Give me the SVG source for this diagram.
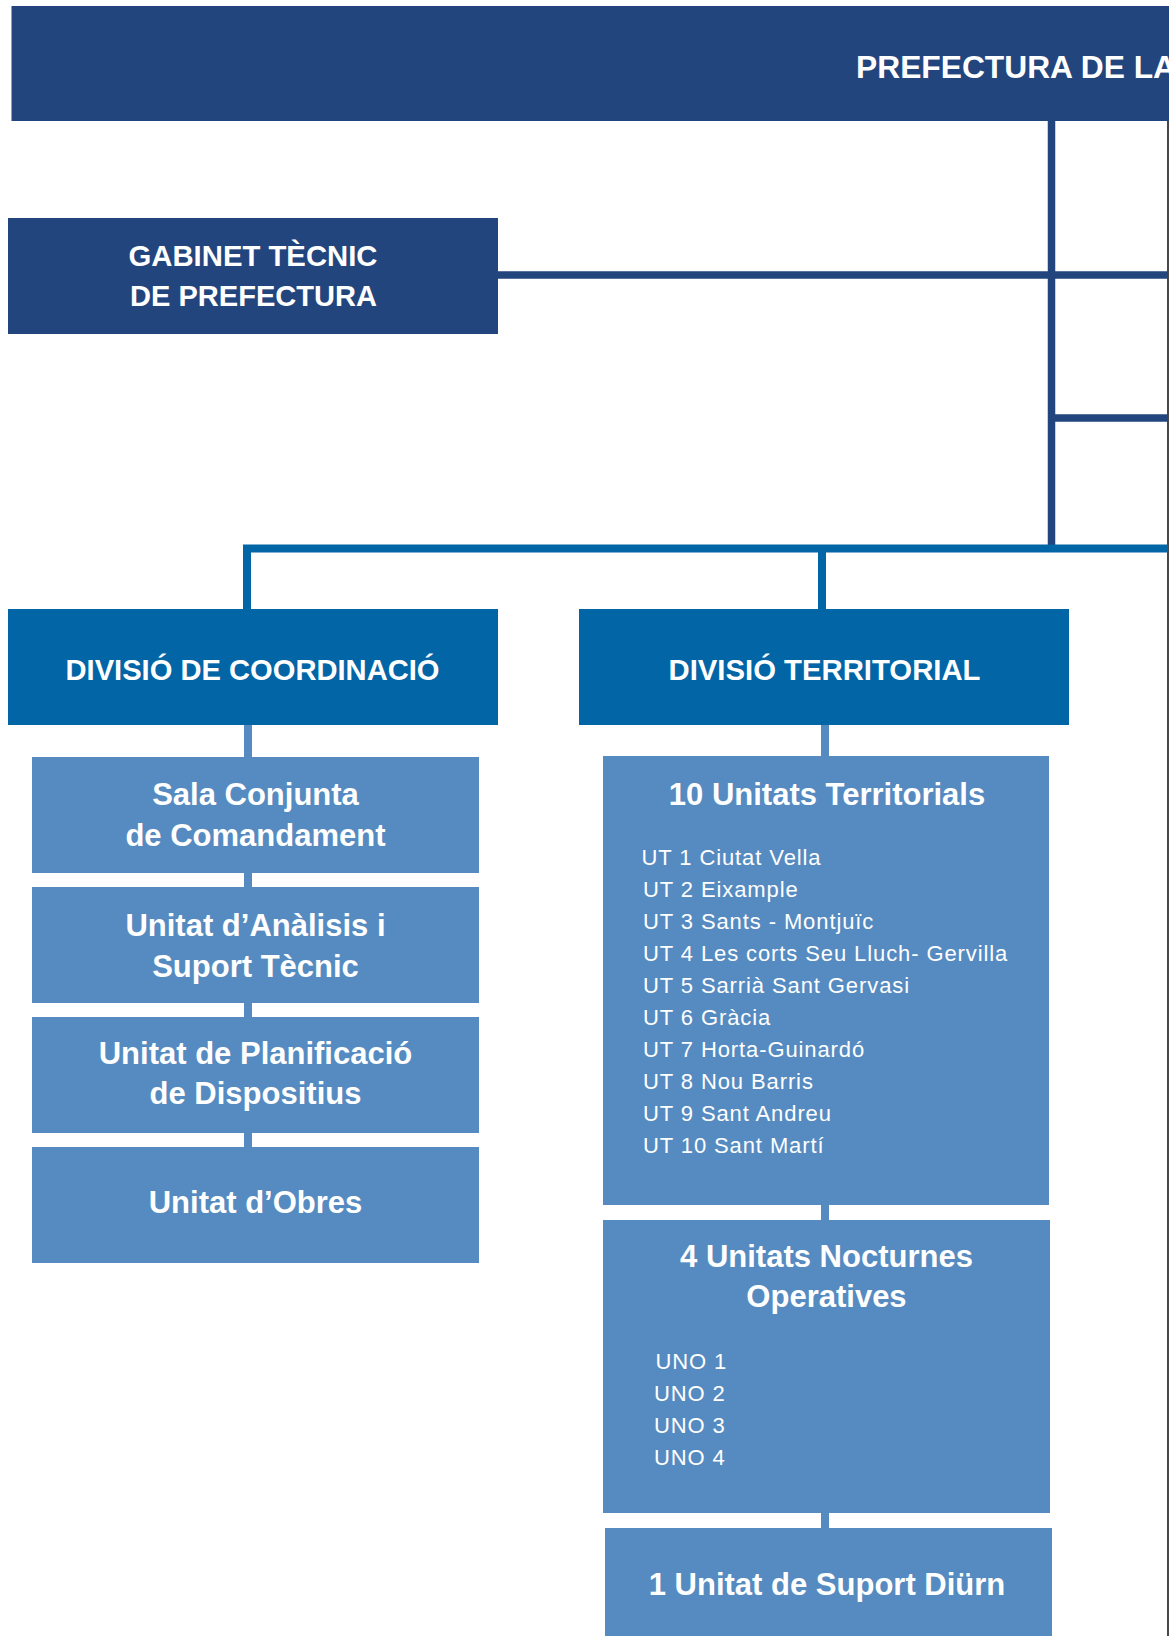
<svg xmlns="http://www.w3.org/2000/svg" width="1169" height="1636" viewBox="0 0 1169 1636">
<style>
.navy{fill:#23457e}
.div{fill:#0265a6}
.lt{fill:#568bc1}
.hdr{font-family:"Liberation Sans",Arial,sans-serif;font-weight:bold;font-size:30px;fill:#ffffff}
.ttl{font-family:"Liberation Sans",Arial,sans-serif;font-weight:bold;font-size:31px;fill:#ffffff;text-anchor:middle}
.lst{font-family:"Liberation Sans",Arial,sans-serif;font-size:22px;letter-spacing:0.9px;fill:#ffffff}
.cn{stroke:#23457e;stroke-width:7.5;fill:none}
.cb{stroke:#0265a6;stroke-width:8;fill:none}
.cl{stroke:#568bc1;stroke-width:8;fill:none}
</style>
<rect width="1169" height="1636" fill="#ffffff"/>
<g id="edge">
<line x1="1168" y1="121" x2="1168" y2="1636" stroke="#1a1a1a" stroke-width="1.6"/>
</g>
<g id="connectors">
<line class="cn" x1="1051.5" y1="118" x2="1051.5" y2="548"/>
<line class="cn" x1="495" y1="275" x2="1168" y2="275"/>
<line class="cn" x1="1051.5" y1="418" x2="1168" y2="418"/>
<polyline class="cb" points="247,612 247,548.5 1168,548.5"/>
<line class="cb" x1="822" y1="548" x2="822" y2="612"/>
<line class="cl" x1="248" y1="720" x2="248" y2="1150"/>
<line class="cl" x1="825" y1="720" x2="825" y2="1530"/>
</g>
<g id="prefectura">
<rect class="navy" x="11.5" y="6" width="1160" height="115"/>
<text class="hdr" x="856" y="78" font-size="32" textLength="320" lengthAdjust="spacingAndGlyphs" style="font-size:32px">PREFECTURA DE LA</text>
</g>
<g id="gabinet">
<rect class="navy" x="8" y="218" width="490" height="116"/>
<text class="hdr" x="253" y="266" text-anchor="middle" textLength="249" lengthAdjust="spacingAndGlyphs">GABINET TÈCNIC</text>
<text class="hdr" x="253.5" y="306" text-anchor="middle" textLength="247" lengthAdjust="spacingAndGlyphs">DE PREFECTURA</text>
</g>
<g id="divisio-coordinacio">
<rect class="div" x="8" y="609" width="490" height="116"/>
<text class="hdr" x="252.5" y="680" text-anchor="middle" textLength="374" lengthAdjust="spacingAndGlyphs">DIVISIÓ DE COORDINACIÓ</text>
</g>
<g id="divisio-territorial">
<rect class="div" x="579" y="609" width="490" height="116"/>
<text class="hdr" x="824.5" y="680" text-anchor="middle" textLength="312" lengthAdjust="spacingAndGlyphs">DIVISIÓ TERRITORIAL</text>
</g>
<g id="sala-conjunta">
<rect class="lt" x="32" y="757" width="447" height="116"/>
<text class="ttl" x="255.5" y="805">Sala Conjunta</text>
<text class="ttl" x="255.5" y="846">de Comandament</text>
</g>
<g id="unitat-analisis">
<rect class="lt" x="32" y="887" width="447" height="116"/>
<text class="ttl" x="255.5" y="936">Unitat d’Anàlisis i</text>
<text class="ttl" x="255.5" y="977">Suport Tècnic</text>
</g>
<g id="unitat-planificacio">
<rect class="lt" x="32" y="1017" width="447" height="116"/>
<text class="ttl" x="255.5" y="1064">Unitat de Planificació</text>
<text class="ttl" x="255.5" y="1104">de Dispositius</text>
</g>
<g id="unitat-obres">
<rect class="lt" x="32" y="1147" width="447" height="116"/>
<text class="ttl" x="255.5" y="1213">Unitat d’Obres</text>
</g>
<g id="unitats-territorials">
<rect class="lt" x="603" y="756" width="446" height="449"/>
<text class="ttl" x="827" y="805">10 Unitats Territorials</text>
<text class="lst" x="641.5" y="865">UT 1 Ciutat Vella</text>
<text class="lst" x="643" y="897">UT 2 Eixample</text>
<text class="lst" x="643" y="929">UT 3 Sants - Montjuïc</text>
<text class="lst" x="643" y="961">UT 4 Les corts Seu Lluch- Gervilla</text>
<text class="lst" x="643" y="993">UT 5 Sarrià Sant Gervasi</text>
<text class="lst" x="643" y="1025">UT 6 Gràcia</text>
<text class="lst" x="643" y="1057">UT 7 Horta-Guinardó</text>
<text class="lst" x="643" y="1089">UT 8 Nou Barris</text>
<text class="lst" x="643" y="1121">UT 9 Sant Andreu</text>
<text class="lst" x="643" y="1153">UT 10 Sant Martí</text>
</g>
<g id="unitats-nocturnes">
<rect class="lt" x="603" y="1220" width="447" height="293"/>
<text class="ttl" x="826.5" y="1267">4 Unitats Nocturnes</text>
<text class="ttl" x="826.5" y="1307">Operatives</text>
<text class="lst" x="655.5" y="1369">UNO 1</text>
<text class="lst" x="654" y="1401">UNO 2</text>
<text class="lst" x="654" y="1433">UNO 3</text>
<text class="lst" x="654" y="1465">UNO 4</text>
</g>
<g id="unitat-suport-diurn">
<rect class="lt" x="605" y="1528" width="447" height="120"/>
<text class="ttl" x="827" y="1595">1 Unitat de Suport Diürn</text>
</g>
</svg>
